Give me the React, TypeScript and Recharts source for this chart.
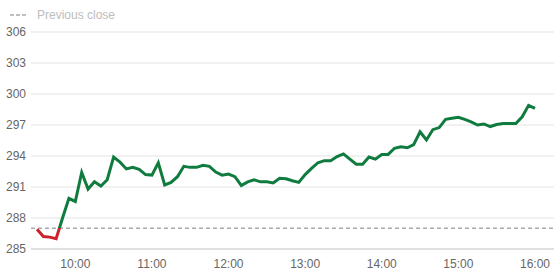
import React from "react";
import { LineChart, Line, XAxis, YAxis, CartesianGrid, ReferenceLine } from "recharts";

const START_MINUTE = 570; // 9:30
const STEP_MINUTES = 5;
const prices: number[] = [
  286.9, 286.2, 286.15, 286.0, 288.0, 289.9, 289.6, 292.4, 290.8, 291.5,
  291.1, 291.7, 293.9, 293.4, 292.75, 292.9, 292.7, 292.2, 292.15, 293.35,
  291.2, 291.45, 292.0, 293.0, 292.9, 292.9, 293.1, 293.0, 292.45, 292.15,
  292.25, 292.0, 291.15, 291.5, 291.7, 291.5, 291.5, 291.4, 291.85, 291.8,
  291.6, 291.45, 292.2, 292.8, 293.35, 293.55, 293.55, 293.95, 294.2, 293.7,
  293.2, 293.2, 293.9, 293.7, 294.15, 294.15, 294.75, 294.9, 294.8, 295.1,
  296.35, 295.55, 296.55, 296.75, 297.55, 297.65, 297.75, 297.55, 297.3, 297.0,
  297.1, 296.85, 297.05, 297.15, 297.15, 297.15, 297.8, 298.9, 298.6,
];
const previousClose = 287.0;
const xTicks = [600, 660, 720, 780, 840, 900, 960];
const yTicks = [285, 288, 291, 294, 297, 300, 303, 306];
const legendLabel = "Previous close";

const data = prices.map((price, i) => ({ t: START_MINUTE + i * STEP_MINUTES, price }));

const maxP = Math.max(...prices);
const minP = Math.min(...prices);
const splitOffset = (maxP - previousClose) / (maxP - minP);

const fmtTime = (m: number) => `${Math.floor(m / 60)}:${String(m % 60).padStart(2, "0")}`;

const FONT = "'Liberation Sans', Arial, sans-serif";
const GREEN = "#0f7b3e";
const RED = "#cc2229";

export default function App() {
  return (
    <div style={{ position: "absolute", left: 0, top: 0, width: 554, height: 277, fontFamily: FONT, background: "#fff" }}>
      <div style={{ position: "absolute", left: 10, top: 7, display: "flex", alignItems: "center", fontSize: 12, color: "#bdbdbd", lineHeight: "16px" }}>
        <svg width={16} height={4} style={{ marginRight: 11 }}>
          <line x1={0} y1={2} x2={16} y2={2} stroke="#aaa" strokeWidth={1.5} strokeDasharray="4 2" />
        </svg>
        <span>{legendLabel}</span>
      </div>
      <LineChart width={554} height={277} data={data} margin={{ top: 32, right: 0, bottom: 0, left: 0 }}>
        <defs>
          <linearGradient id="splitColor" x1="0" y1="0" x2="0" y2="1">
            <stop offset={splitOffset} stopColor={GREEN} />
            <stop offset={splitOffset} stopColor={RED} />
          </linearGradient>
        </defs>
        <CartesianGrid vertical={false} stroke="#e3e3e3" />
        <XAxis
          dataKey="t"
          type="number"
          domain={[565.3, 974.9]}
          ticks={xTicks}
          tickFormatter={fmtTime}
          tickLine={false}
          axisLine={{ stroke: "#cfcfcf" }}
          tickSize={6}
          tickMargin={4}
          height={28}
          tick={{ fill: "#666", fontSize: 12, fontFamily: FONT }}
        />
        <YAxis
          domain={[285, 306]}
          ticks={yTicks}
          width={31}
          tickLine={false}
          axisLine={false}
          tickSize={3}
          tickMargin={2}
          interval={0}
          tick={{ fill: "#666", fontSize: 12, fontFamily: FONT }}
        />
        <ReferenceLine y={previousClose} stroke="#aaa" strokeWidth={1.5} strokeDasharray="4 3" ifOverflow="extendDomain" />
        <Line
          type="linear"
          dataKey="price"
          stroke="url(#splitColor)"
          strokeWidth={3}
          dot={false}
          activeDot={false}
          isAnimationActive={false}
        />
      </LineChart>
    </div>
  );
}
